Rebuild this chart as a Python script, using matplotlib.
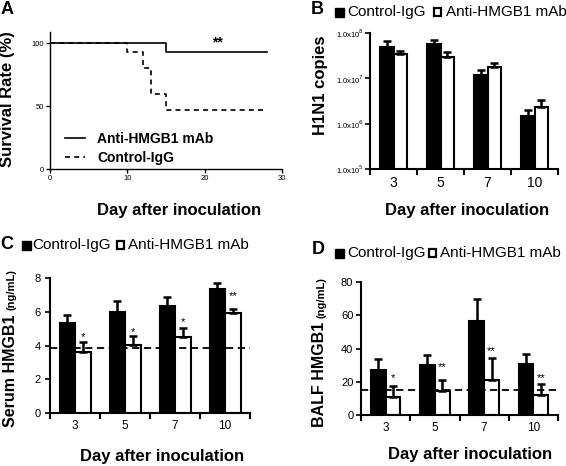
import numpy as np
import matplotlib
matplotlib.use('Agg')
import matplotlib.pyplot as plt
from matplotlib.patches import Rectangle
from matplotlib.lines import Line2D

plt.rcParams['font.family'] = ['Liberation Sans', 'DejaVu Sans']

# ---------------- data ----------------
surv_days_anti = [0, 15, 28]
surv_anti = [100, 93.3, 93.3]
surv_days_ctrl = [0, 10, 12, 13, 15, 28]
surv_ctrl = [100, 93.3, 80, 60, 46.7, 46.7]

days = ['3', '5', '7', '10']

h1n1_ctrl = [5.0e7, 5.8e7, 1.2e7, 1.47e6]
h1n1_ctrl_err = [1.6e7, 1.3e7, 0.35e7, 0.58e6]
h1n1_anti = [3.4e7, 3.0e7, 1.75e7, 2.3e6]
h1n1_anti_err = [0.7e7, 0.8e7, 0.4e7, 1.0e6]
h1n1_ticks = [1e5, 1e6, 1e7, 1e8]
h1n1_ticklabels = [r'1.0x10$^{5}$', r'1.0x10$^{6}$', r'1.0x10$^{7}$', r'1.0x10$^{8}$']

serum_ctrl = [5.35, 5.98, 6.31, 7.31]
serum_ctrl_err = [0.47, 0.64, 0.55, 0.37]
serum_anti = [3.59, 4.02, 4.51, 5.92]
serum_anti_err = [0.62, 0.53, 0.55, 0.26]
serum_baseline = 3.86
serum_sig = ['*', '*', '*', '**']
serum_sig_y = [4.5, 4.8, 5.4, 6.9]

balf_ctrl = [27.1, 29.9, 56.6, 30.7]
balf_ctrl_err = [6.8, 6.2, 13.1, 6.0]
balf_anti = [11.0, 14.7, 21.1, 12.0]
balf_anti_err = [6.7, 6.4, 13.4, 6.5]
balf_baseline = 15
balf_sig = ['*', '**', '**', '**']
balf_sig_y = [22, 28.7, 38.7, 22]

# ---------------- layout helpers ----------------
W, H = 566, 466
fig = plt.figure(figsize=(W / 100, H / 100), dpi=100)


def rect(l, t, r, b):
    return [l / W, 1 - b / H, (r - l) / W, (b - t) / H]


def ftext(x, y, s, **kw):
    return fig.text(x / W, 1 - y / H, s, **kw)


def style_axes(ax, lw=1.5):
    for s in ['top', 'right']:
        ax.spines[s].set_visible(False)
    for s in ['left', 'bottom']:
        ax.spines[s].set_linewidth(lw)
        ax.spines[s].set_color('black')


def bars(ax, ctrl, ce, anti, ae, w):
    x = np.arange(len(ctrl))
    ax.bar(x - w / 2, ctrl, w, color='black', edgecolor='black', lw=1.5, zorder=2)
    ax.bar(x + w / 2, anti, w, color='white', edgecolor='black', lw=1.5, zorder=2)
    z = np.zeros(len(ctrl))
    ax.errorbar(x - w / 2, ctrl, yerr=[z, ce], fmt='none', ecolor='black',
                elinewidth=1.8, capsize=2.8, capthick=1.8, zorder=3)
    ax.errorbar(x + w / 2, anti, yerr=[z, ae], fmt='none', ecolor='black',
                elinewidth=1.8, capsize=2.8, capthick=1.8, zorder=3)
    ax.set_xlim(-0.5, len(ctrl) - 0.5)
    ax.set_xticks(x)
    ax.set_xticklabels(days)
    ax.set_xticks(np.arange(-0.5, len(ctrl)), minor=True)
    ax.tick_params(axis='x', which='major', length=0, pad=5)
    ax.tick_params(axis='x', which='minor', length=4, width=1.5, direction='out')
    ax.tick_params(axis='y', length=3.5, width=1.2, direction='out')


def top_legend(xsq1, xt1, xsq2, xt2, yc, size=11, sq=9):
    fig.add_artist(Rectangle((xsq1 / W, 1 - (yc + sq / 2) / H), sq / W, sq / H,
                             transform=fig.transFigure, facecolor='black',
                             edgecolor='black', lw=1.0))
    ftext(xt1, yc, 'Control-IgG', fontsize=size, va='center', ha='left')
    fig.add_artist(Rectangle(((xsq2 + 0.8) / W, 1 - (yc + sq / 2 - 0.8) / H), (sq - 1.6) / W, (sq - 1.6) / H,
                             transform=fig.transFigure, facecolor='white',
                             edgecolor='black', lw=1.6))
    ftext(xt2, yc, 'Anti-HMGB1 mAb', fontsize=size, va='center', ha='left')


def split_ylabel(xbase, ybottom, main, unit, size=11.5, usize=8):
    t = fig.text(xbase / W, 1 - ybottom / H, main, fontsize=size, fontweight='bold',
                 rotation=90, rotation_mode='anchor', ha='left', va='baseline')
    fig.canvas.draw()
    bb = t.get_window_extent(renderer=fig.canvas.get_renderer())
    ytop_px = bb.y1 + 4  # display coords (from bottom)
    fig.text(xbase / W, ytop_px / fig.bbox.height, unit, fontsize=usize, fontweight='bold',
             rotation=90, rotation_mode='anchor', ha='left', va='baseline')


xl_kw = dict(fontsize=12, fontweight='bold', ha='center', va='center')
yl_kw = dict(fontsize=12, fontweight='bold', ha='center', va='center', rotation=90)

# ---------------- Panel A ----------------
axA = fig.add_axes(rect(50, 32, 282, 169))
style_axes(axA, lw=1.0)
axA.step(surv_days_ctrl, surv_ctrl, where='post', color='black', lw=1.2, ls=(0, (3, 2.5)))
axA.step(surv_days_anti, surv_anti, where='post', color='black', lw=1.2)
axA.set_xlim(0, 30)
axA.set_ylim(0, 109)
axA.set_xticks([0, 10, 20, 30])
axA.set_yticks([0, 50, 100])
axA.tick_params(labelsize=5.5, length=3, width=1.0, direction='out', pad=1.5)
axA.text(21.7, 100.5, '**', fontsize=10, fontweight='bold', ha='center', va='center')
leg_handles = [Line2D([], [], color='black', lw=1.2),
               Line2D([], [], color='black', lw=1.2, ls=(0, (3, 2.5)))]
axA.legend(leg_handles, ['Anti-HMGB1 mAb', 'Control-IgG'], loc='upper left',
           bbox_to_anchor=(0.035, 0.32), frameon=False, handlelength=1.4,
           handletextpad=0.9, borderpad=0, labelspacing=0.35,
           prop=dict(size=10, weight='bold'))
ftext(1, 9, 'A', fontsize=13, fontweight='bold', ha='left', va='center')
ftext(179, 211, 'Day after inoculation', **xl_kw)
ftext(8, 99, 'Survival Rate (%)', **yl_kw)

# ---------------- Panel B ----------------
axB = fig.add_axes(rect(370, 33, 558, 169))
style_axes(axB)
axB.set_yscale('log', nonpositive='clip')
bars(axB, h1n1_ctrl, h1n1_ctrl_err, h1n1_anti, h1n1_anti_err, 0.29)
axB.set_ylim(1e5, 1e8)
axB.set_yticks(h1n1_ticks)
axB.set_yticklabels(h1n1_ticklabels)
axB.yaxis.set_minor_locator(matplotlib.ticker.NullLocator())
axB.tick_params(axis='y', labelsize=5.5, pad=1)
axB.tick_params(axis='x', labelsize=10)
ftext(311, 10, 'B', fontsize=13, fontweight='bold', ha='left', va='center')
top_legend(335, 347, 433, 446, 12)
ftext(467, 211, 'Day after inoculation', **xl_kw)
ftext(320, 85, 'H1N1 copies', **yl_kw)

# ---------------- Panel C ----------------
axC = fig.add_axes(rect(50, 277.7, 250, 413.3))
style_axes(axC)
bars(axC, serum_ctrl, serum_ctrl_err, serum_anti, serum_anti_err, 0.31)
axC.set_ylim(0, 8)
axC.set_yticks([0, 2, 4, 6, 8])
axC.tick_params(axis='y', labelsize=8, pad=3)
axC.tick_params(axis='x', labelsize=8.5)
axC.axhline(serum_baseline, color='black', lw=1.3, ls=(0, (4, 2.5)), zorder=4)
for i, (s, y) in enumerate(zip(serum_sig, serum_sig_y)):
    axC.text(i + 0.155, y, s, fontsize=8, ha='center', va='center', zorder=5)
ftext(0, 245, 'C', fontsize=13, fontweight='bold', ha='left', va='center')
top_legend(22, 32, 116, 128, 245)
ftext(162, 456.5, 'Day after inoculation', **xl_kw)
split_ylabel(14.5, 427, 'Serum HMGB1', '(ng/mL)')

# ---------------- Panel D ----------------
axD = fig.add_axes(rect(361, 282.3, 558, 415))
style_axes(axD)
bars(axD, balf_ctrl, balf_ctrl_err, balf_anti, balf_anti_err, 0.3)
axD.set_ylim(0, 80)
axD.set_yticks([0, 20, 40, 60, 80])
axD.tick_params(axis='y', labelsize=8, pad=2)
axD.tick_params(axis='x', labelsize=8.5)
axD.axhline(balf_baseline, color='black', lw=1.3, ls=(0, (4, 2.5)), zorder=4)
for i, (s, y) in enumerate(zip(balf_sig, balf_sig_y)):
    axD.text(i + 0.15, y, s, fontsize=8, ha='center', va='center', zorder=5)
ftext(312, 250, 'D', fontsize=13, fontweight='bold', ha='left', va='center')
top_legend(335, 347, 428, 440, 253)
ftext(470, 455, 'Day after inoculation', **xl_kw)
split_ylabel(324.5, 427, 'BALF HMGB1', '(ng/mL)')

fig.savefig('out.png', dpi=100)
